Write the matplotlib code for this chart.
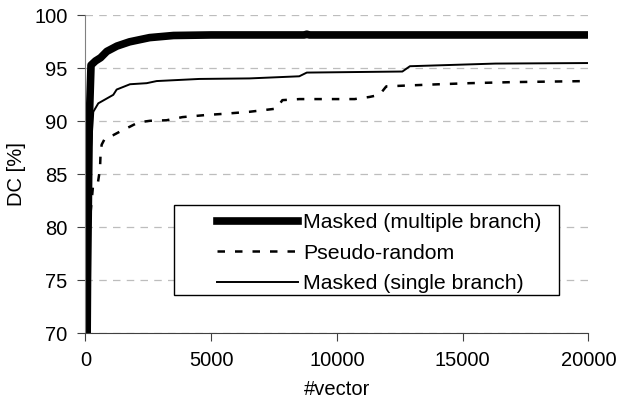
import matplotlib
matplotlib.use("Agg")
import matplotlib.pyplot as plt
from matplotlib.patches import Rectangle

plt.rcParams['font.family'] = ['Liberation Sans', 'DejaVu Sans']

# Masked (multiple branch)
multi_x = [40, 80, 150, 220, 400, 600, 850, 1250, 1750, 2550, 3500, 5000, 8700, 8800, 8900, 20000]
multi_y = [60, 75, 90, 95.3, 95.7, 96.0, 96.6, 97.1, 97.5, 97.9, 98.1, 98.15, 98.15, 98.22, 98.15, 98.15]

# Pseudo-random
pseudo_x = [60, 150, 310, 500, 577, 600, 644, 775, 1105, 1503, 1770, 2100, 2565, 3220, 3860, 4810,
            5450, 6520, 7590, 7830, 8510, 10700, 11290, 11690, 11960, 13000, 14075, 15270, 16980,
            18450, 20000]
pseudo_y = [60, 80, 84.2, 84.3, 85.5, 87.0, 87.8, 88.4, 88.7, 89.2, 89.5, 89.9, 90.05, 90.1, 90.4, 90.6,
            90.7, 90.9, 91.2, 92.0, 92.1, 92.1, 92.3, 92.5, 93.3, 93.4, 93.5, 93.6, 93.7,
            93.75, 93.8]

# Masked (single branch)
single_x = [50, 150, 310, 509, 1105, 1240, 1770, 2433, 2830, 4530, 6520, 8500, 8800, 12600, 12900,
            16300, 20000]
single_y = [60, 85, 90.9, 91.7, 92.5, 93.0, 93.5, 93.6, 93.8, 94.0, 94.05, 94.25, 94.6, 94.7, 95.2,
            95.45, 95.5]

labels = ['Masked (multiple branch)', 'Pseudo-random', 'Masked (single branch)']
yticks = [70, 75, 80, 85, 90, 95, 100]
xticks = [0, 5000, 10000, 15000, 20000]

fig = plt.figure(figsize=(6.19, 4.04), dpi=100)
ax = fig.add_axes([0.1381, 0.175, 0.8126, 0.787])

l1, = ax.plot(multi_x, multi_y, color='black', lw=5.5, solid_joinstyle='round')
l2, = ax.plot(pseudo_x, pseudo_y, color='black', lw=1.8, linestyle=(0, (3, 4)))
l3, = ax.plot(single_x, single_y, color='black', lw=1.4)

ax.set_xlim(0, 20000)
ax.set_ylim(70, 100)
ax.set_xticks(xticks)
ax.set_yticks(yticks)
ax.yaxis.grid(True, color='#bdbdbd', linestyle=(0, (6, 5)), lw=0.9)
ax.set_axisbelow(True)

for s in ['top', 'right']:
    ax.spines[s].set_visible(False)
ax.spines['left'].set_color('#808080')
ax.spines['bottom'].set_color('#404040')
ax.tick_params(axis='both', labelsize=14.5, length=6, width=0.8, colors='#404040', labelcolor='black')
ax.tick_params(axis='y', pad=7)
ax.tick_params(axis='x', pad=7)

ax.set_xlabel('#vector', fontsize=14.5, labelpad=7)
ax.set_ylabel('DC [%]', fontsize=14.5, labelpad=6)

# legend box (Excel-style, handles inset from the left edge)
ax.add_patch(Rectangle((0.179, 0.117), 0.765, 0.2831, transform=ax.transAxes,
                       facecolor='#808080', edgecolor='none', zorder=4, clip_on=False))
ax.add_patch(Rectangle((0.176, 0.1204), 0.765, 0.2831, transform=ax.transAxes,
                       facecolor='white', edgecolor='black', lw=1.0, zorder=5, clip_on=False))
leg = ax.legend([l1, l2, l3], labels, loc='upper left', bbox_to_anchor=(0.2614, 0.378),
                frameon=False, fontsize=15.3, handlelength=3.8, handletextpad=0.25,
                labelspacing=0.55, borderpad=0, borderaxespad=0)
leg.set_zorder(6)

fig.savefig('out.png', dpi=100)
